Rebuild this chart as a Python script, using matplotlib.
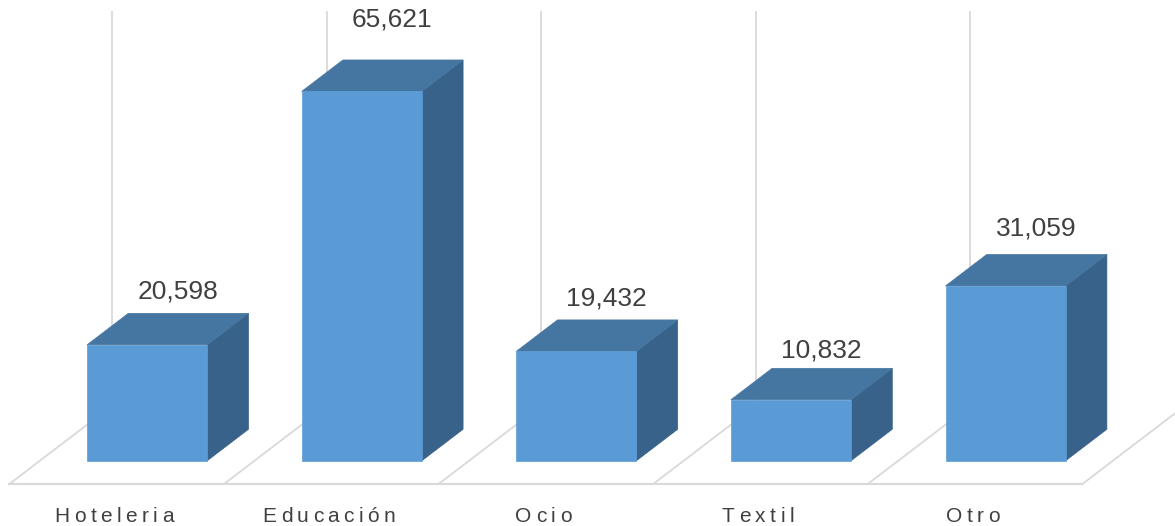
import matplotlib
matplotlib.use("Agg")
import matplotlib.pyplot as plt
from matplotlib.patches import Polygon
from matplotlib.font_manager import FontProperties, findfont, get_font

categories = ["Hoteleria", "Educación", "Ocio", "Textil", "Otro"]
values = [20598, 65621, 19432, 10832, 31059]
value_labels = ["20,598", "65,621", "19,432", "10,832", "31,059"]

AXIS_MAX = 70000

# oblique projection of the 3D floor: depth d in [0, 1] shifts right and up
DEPTH_X = 0.48      # category units
DEPTH_Y = 13966     # value units
BAR_W = 0.56
BAR_D0, BAR_D1 = 0.3, 0.7

FRONT = "#5B9BD5"
TOP = "#4575A1"
SIDE = "#386289"
GRID = "#D9D9D9"
TEXT = "#404040"


def proj(u, d, v):
    return (u + d * DEPTH_X, v + d * DEPTH_Y)


fig = plt.figure(figsize=(11.75, 5.26), dpi=100)
ax = fig.add_axes([0, 0, 1, 1])
ax.set_xlim(-0.0419, 5.4334)
ax.set_ylim(-7409, 86052)
ax.axis("off")

n = len(categories)

# floor gridlines, back wall gridlines and the category axis
for i in range(n + 1):
    a, b = proj(i, 0, 0), proj(i, 1, 0)
    ax.plot([a[0], b[0]], [a[1], b[1]], color=GRID, lw=1.3, zorder=1)
    c = proj(i, 1, AXIS_MAX)
    ax.plot([b[0], c[0]], [b[1], c[1]], color=GRID, lw=1.3, zorder=1)
a, b = proj(0, 0, 0), proj(n, 0, 0)
ax.plot([a[0], b[0]], [a[1], b[1]], color=GRID, lw=1.5, zorder=1)

# 3D columns
for i, v in enumerate(values):
    u0 = i + 0.5 - BAR_W / 2
    u1 = u0 + BAR_W
    front = [proj(u0, BAR_D0, 0), proj(u1, BAR_D0, 0), proj(u1, BAR_D0, v), proj(u0, BAR_D0, v)]
    side = [proj(u1, BAR_D0, 0), proj(u1, BAR_D1, 0), proj(u1, BAR_D1, v), proj(u1, BAR_D0, v)]
    top = [proj(u0, BAR_D0, v), proj(u1, BAR_D0, v), proj(u1, BAR_D1, v), proj(u0, BAR_D1, v)]
    for pts, col in ((side, SIDE), (top, TOP), (front, FRONT)):
        ax.add_patch(Polygon(pts, closed=True, facecolor=col, edgecolor=col, lw=0.5, zorder=2 + i))

# value labels above each column
for i, (v, txt) in enumerate(zip(values, value_labels)):
    x, y = proj(i + 0.45, BAR_D1, v * 1.0714 + 1180)
    ax.text(x, y, txt, ha="center", va="baseline", fontsize=19,
            family="Liberation Sans", color=TEXT, zorder=20)

# category labels with wide letter spacing
label_font = FontProperties(family="Liberation Sans", size=15)
ft = get_font(findfont(label_font))
ft.set_size(15, 72)


def advance(ch):
    return ft.load_char(ord(ch)).linearHoriAdvance / 65536


def tracked_label(x, y, text, tracking=3.2):
    widths = [advance(c) for c in text]
    total = sum(widths) + tracking * (len(text) - 1)
    off = -total / 2
    for c, w in zip(text, widths):
        ax.annotate(c, (x, y), xytext=(off, 0), textcoords="offset points",
                    ha="left", va="baseline", fontproperties=label_font,
                    color=TEXT, zorder=20)
        off += w + tracking


for i, cat in enumerate(categories):
    x, y = proj(i + 0.49, 0, -6645)
    tracked_label(x, y, cat)

fig.savefig("out.png", dpi=100)
